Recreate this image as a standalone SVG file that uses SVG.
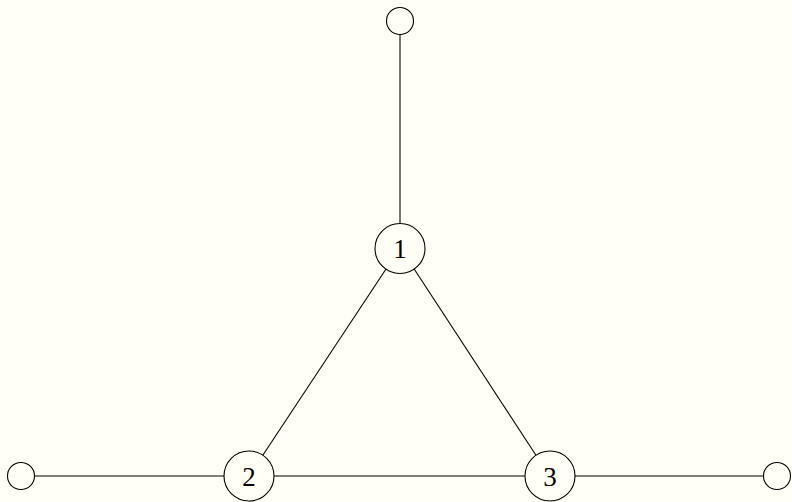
<svg xmlns="http://www.w3.org/2000/svg" width="792" height="502" viewBox="0 0 792 502">
<style>
.n{fill:none;stroke:#000;stroke-width:1.1}
.e{stroke:#000;stroke-width:1.1;fill:none}
.t{font-family:"Liberation Serif","DejaVu Serif",serif;font-size:27px;text-anchor:middle;fill:#000}
</style>
<rect width="792" height="502" fill="#fffff5"/>
<g id="edges">
<line class="e" x1="400" y1="34.5" x2="400" y2="223.5"/>
<line class="e" x1="386.2" y1="268.8" x2="262.8" y2="455.2"/>
<line class="e" x1="414" y1="268.8" x2="536" y2="455.2"/>
<line class="e" x1="274" y1="476" x2="525" y2="476"/>
<line class="e" x1="34.5" y1="476" x2="224" y2="476"/>
<line class="e" x1="575" y1="476" x2="763.5" y2="476"/>
</g>
<g id="n1"><circle class="n" cx="400" cy="248.5" r="25"/><text class="t" x="400" y="258">1</text></g>
<g id="n2"><circle class="n" cx="249" cy="476" r="25"/><text class="t" x="249" y="485.5">2</text></g>
<g id="n3"><circle class="n" cx="550" cy="476" r="25"/><text class="t" x="550" y="485.5">3</text></g>
<g id="top"><circle class="n" cx="400" cy="21" r="13.5"/></g>
<g id="left"><circle class="n" cx="21" cy="476" r="13.5"/></g>
<g id="right"><circle class="n" cx="777" cy="476" r="13.5"/></g>
</svg>
